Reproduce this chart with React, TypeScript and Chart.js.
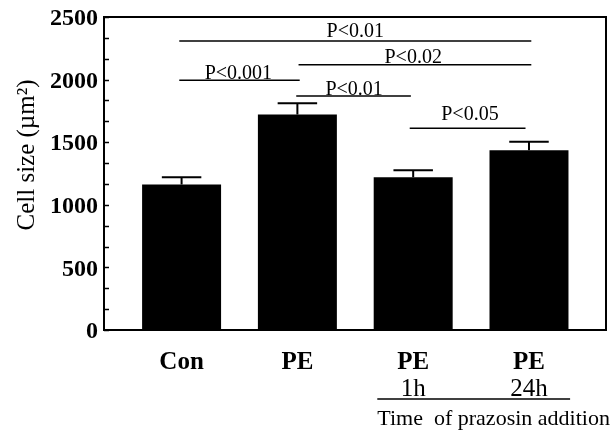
import React, { useEffect, useRef } from 'react';
import { Chart, registerables } from 'chart.js';

Chart.register(...registerables);

// ---- data ----
const categories = ['Con', 'PE', 'PE', 'PE'];
const subLabels = ['', '', '1h', '24h'];
const xPositions = [1, 2, 3, 4];
const cellSize = [1162, 1722, 1220, 1436];
const cellSizeSEM = [58, 89, 56, 68];
const yTickValues = [0, 500, 1000, 1500, 2000, 2500];
const yMinorStep = 500 / 3;

const bracketStart = [0.98, 2.01, 0.98, 1.99, 2.97];
const bracketEnd = [4.02, 4.02, 2.02, 2.98, 3.97];
const bracketLevel = [2308, 2118, 1995, 1869, 1611];
const bracketText = ['P<0.01', 'P<0.02', 'P<0.001', 'P<0.01', 'P<0.05'];
const bracketTextX = [2.5, 3.0, 1.49, 2.49, 3.49];
const bracketTextLevel = [2342, 2129, 2003, 1877, 1677];

const yAxisTitle = 'Cell size (µm²)';
const groupTitle = 'Time  of prazosin addition';
const groupSpan = [2.69, 4.355];

const SERIF = '"Liberation Serif", "Times New Roman", serif';

const annotations = {
  id: 'annotations',
  afterDatasetsDraw(chart: any) {
    const { ctx, chartArea: a, scales } = chart;
    const x = scales.x;
    const y = scales.y;
    ctx.save();
    ctx.strokeStyle = '#000';
    ctx.fillStyle = '#000';

    // frame
    ctx.lineWidth = 2;
    ctx.strokeRect(a.left, a.top, a.right - a.left, a.bottom - a.top);

    // inward ticks on y axis
    ctx.lineWidth = 1.5;
    const yMax = yTickValues[yTickValues.length - 1];
    for (let k = 0; k * yMinorStep <= yMax + 1e-6; k++) {
      const py = Math.round(y.getPixelForValue(k * yMinorStep)) + 0.5;
      ctx.beginPath();
      ctx.moveTo(a.left, py);
      ctx.lineTo(a.left + 5, py);
      ctx.stroke();
    }

    // error bars
    const meta = chart.getDatasetMeta(0);
    meta.data.forEach((bar: any, i: number) => {
      const cx = bar.x;
      const top = y.getPixelForValue(cellSize[i] + cellSizeSEM[i]);
      const half = bar.width * 0.25;
      ctx.lineWidth = 2;
      ctx.beginPath();
      ctx.moveTo(cx, bar.y);
      ctx.lineTo(cx, top);
      ctx.moveTo(cx - half, top);
      ctx.lineTo(cx + half, top);
      ctx.stroke();
    });

    // significance brackets
    ctx.lineWidth = 1.5;
    ctx.font = `20px ${SERIF}`;
    ctx.textAlign = 'center';
    ctx.textBaseline = 'alphabetic';
    bracketText.forEach((t, i) => {
      const py = y.getPixelForValue(bracketLevel[i]);
      ctx.beginPath();
      ctx.moveTo(x.getPixelForValue(bracketStart[i]), py);
      ctx.lineTo(x.getPixelForValue(bracketEnd[i]), py);
      ctx.stroke();
      ctx.fillText(t, x.getPixelForValue(bracketTextX[i]), y.getPixelForValue(bracketTextLevel[i]));
    });

    // sub labels (time of prazosin addition)
    ctx.font = `25px ${SERIF}`;
    ctx.textAlign = 'center';
    subLabels.forEach((s, i) => {
      if (!s) return;
      ctx.fillText(s, x.getPixelForValue(xPositions[i]), a.bottom + 66);
    });
    ctx.lineWidth = 1.5;
    ctx.beginPath();
    ctx.moveTo(x.getPixelForValue(groupSpan[0]), a.bottom + 69);
    ctx.lineTo(x.getPixelForValue(groupSpan[1]), a.bottom + 69);
    ctx.stroke();
    ctx.font = `22px ${SERIF}`;
    ctx.textAlign = 'left';
    ctx.fillText(groupTitle, x.getPixelForValue(groupSpan[0]), a.bottom + 95);

    // y axis title
    ctx.translate(34, 155);
    ctx.rotate(-Math.PI / 2);
    ctx.font = `25px ${SERIF}`;
    ctx.textAlign = 'center';
    ctx.fillText(yAxisTitle, 0, 0);
    ctx.restore();
  },
};

export default function App() {
  const ref = useRef<HTMLCanvasElement | null>(null);

  useEffect(() => {
    if (!ref.current) return;
    const chart = new Chart(ref.current, {
      type: 'bar',
      data: {
        datasets: [
          {
            data: xPositions.map((xv, i) => ({ x: xv, y: cellSize[i] })),
            backgroundColor: '#000',
            borderWidth: 0,
            categoryPercentage: 1,
            barPercentage: 0.682,
          },
        ],
      },
      options: {
        animation: false,
        responsive: false,
        layout: { padding: { top: 17, right: 4, left: 0, bottom: 0 } },
        plugins: { legend: { display: false }, tooltip: { enabled: false } },
        scales: {
          x: {
            type: 'linear',
            offset: false,
            min: 0.33,
            max: 4.665,
            grid: { display: false, offset: false, drawTicks: false },
            border: { display: false },
            afterFit: (s: any) => {
              s.height = 101;
              s.paddingLeft = 0;
              s.paddingRight = 0;
            },
            ticks: {
              stepSize: 1,
              includeBounds: false,
              autoSkip: false,
              maxRotation: 0,
              padding: 18,
              color: '#000',
              font: { family: SERIF, size: 25, weight: 'bold' },
              callback: (v: any) => categories[xPositions.indexOf(Number(v))] ?? '',
            },
          },
          y: {
            min: yTickValues[0],
            max: yTickValues[yTickValues.length - 1],
            grid: { display: false, drawTicks: false },
            border: { display: false },
            afterFit: (s: any) => {
              s.width = 104;
              s.paddingTop = 0;
              s.paddingBottom = 0;
            },
            ticks: {
              stepSize: 500,
              padding: 6,
              labelOffset: 2,
              color: '#000',
              font: { family: SERIF, size: 24, weight: 'bold' },
              callback: (v: any) => String(v),
            },
          },
        },
      },
      plugins: [annotations],
    } as any);
    return () => chart.destroy();
  }, []);

  return (
    <div style={{ position: 'absolute', left: 0, top: 0, width: 610, height: 431, background: '#fff' }}>
      <canvas ref={ref} width={610} height={431} style={{ display: 'block' }} />
    </div>
  );
}
